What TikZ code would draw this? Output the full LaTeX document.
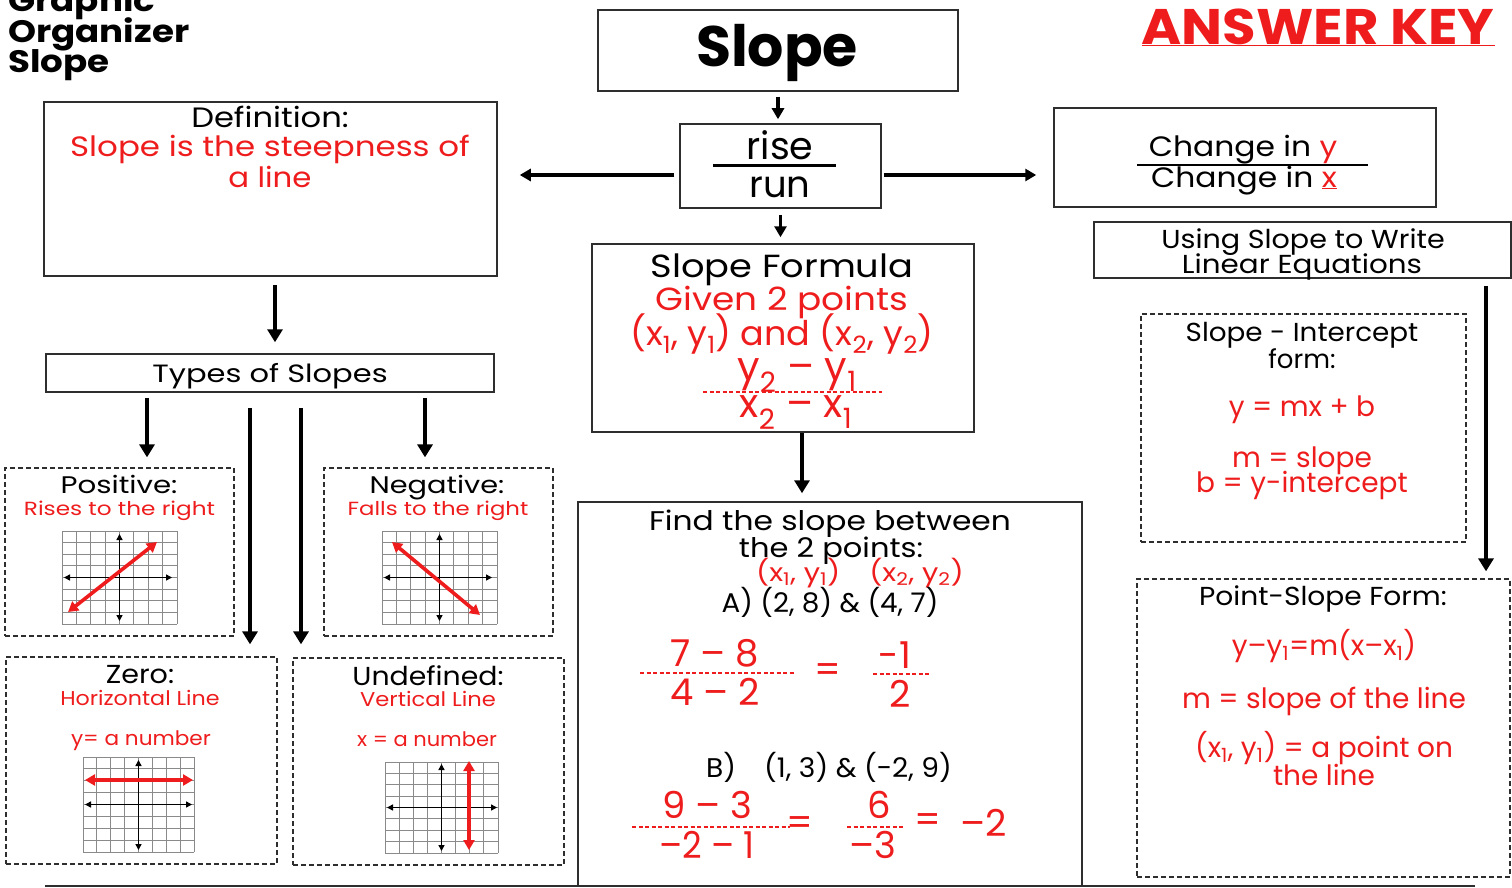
\documentclass[tikz,border=0pt]{standalone}
\usepackage{graphicx}
\usepackage{fontspec}
\setmainfont{Poppins}
\usetikzlibrary{arrows.meta,calc}
\definecolor{ared}{HTML}{EE1C1C}
\definecolor{bord}{HTML}{2E2E2E}
\definecolor{gridc}{HTML}{8A8A8A}
\newcommand{\fs}[1]{\fontsize{#1}{#1}\selectfont}
\newcommand{\lo}[1]{\textsubscript{#1}}
\newcommand{\wx}[2]{\scalebox{#1}[1]{#2}}
\newcommand{\slopegrid}[4]{%
  \foreach \gi in {0,...,8}{%
    \draw[gridl] ({#1+\gi*#3/8},#2) -- ({#1+\gi*#3/8},{#2+#4});
    \draw[gridl] (#1,{#2+\gi*#4/8}) -- ({#1+#3},{#2+\gi*#4/8});
  }}
\begin{document}
\begin{tikzpicture}[x=1pt,y=-1pt,
  sbox/.style={draw=bord, line width=1.5pt, inner sep=0pt},
  dbox/.style={draw=bord, line width=1.3pt, dash pattern=on 5pt off 3pt, inner sep=0pt},
  t/.style={anchor=base, inner sep=0pt},
  rt/.style={t, text=ared},
  arr/.style={line width=3.2pt, -{Triangle[length=11pt,width=12pt]}},
  longarr/.style={line width=4.4pt, -{Triangle[length=13pt,width=15pt]}},
  gridl/.style={gridc, line width=0.8pt},
  axisl/.style={line width=1.8pt, {Triangle[length=6pt,width=6pt]}-{Triangle[length=6pt,width=6pt]}},
  redl/.style={ared, line width=3.6pt, {Triangle[length=10pt,width=11pt]}-{Triangle[length=10pt,width=11pt]}},
  rdash/.style={ared, line width=1.5pt, dash pattern=on 4pt off 2.5pt},
]
\useasboundingbox (0,0) rectangle (1512,888);

% ---------- boxes ----------
\node[sbox, minimum width=360pt, minimum height=81pt] (slopebox) at (778,50.5) {};
\node[sbox, minimum width=201pt, minimum height=84pt] (risebox) at (780.5,166) {};
\node[sbox, minimum width=453pt, minimum height=174pt] (defbox) at (270.5,189) {};
\node[sbox, minimum width=448pt, minimum height=38pt] (typesbox) at (270,373) {};
\node[dbox, minimum width=229pt, minimum height=168pt] (posbox) at (119.5,552) {};
\node[dbox, minimum width=229pt, minimum height=168pt] (negbox) at (438.5,552) {};
\node[dbox, minimum width=271pt, minimum height=207pt] (zerobox) at (141.5,760.5) {};
\node[dbox, minimum width=271pt, minimum height=207pt] (undefbox) at (428.5,761.5) {};
\node[sbox, minimum width=382pt, minimum height=188pt] (formbox) at (783,338) {};
\node[sbox, minimum width=504pt, minimum height=384pt] (findbox) at (830,694) {};
\node[sbox, minimum width=382pt, minimum height=99pt] (changebox) at (1245,157.5) {};
\node[sbox, minimum width=417pt, minimum height=56pt] (usingbox) at (1302.5,250) {};
\node[dbox, minimum width=325pt, minimum height=228pt] (sibox) at (1303.5,428) {};
\node[dbox, minimum width=373pt, minimum height=298pt] (psbox) at (1323.5,728) {};
\coordinate (bl) at (45,886);
\coordinate (br) at (1475,886);
\draw[bord, line width=2pt] (bl) -- (br);

% ---------- title texts ----------
\node[anchor=base west, inner sep=0pt, font=\fs{31}\bfseries] (g1) at (8,12) {\wx{1.15}{Graphic}};
\node[anchor=base west, inner sep=0pt, font=\fs{31}\bfseries] (g2) at (8,43) {\wx{1.15}{Organizer}};
\node[anchor=base west, inner sep=0pt, font=\fs{31}\bfseries] (g3) at (8,73) {\wx{1.15}{Slope}};
\node[t, font=\fs{57}\bfseries] (slopet) at (777,67) {Slope};
\node[rt, font=\fs{50}\bfseries] (ak) at (1318,45) {\wx{1.09}{ANSWER KEY}};
\draw[ared, line width=0.8pt] (ak.base west) -- (ak.base east);

% rise / run
\node[t, font=\fs{38}] (riset) at (780,160) {rise};
\node[t, font=\fs{37}] (runt) at (780,197) {run};
\coordinate (rl1) at (713,165);
\coordinate (rl2) at (836,165);
\draw[line width=3pt] (rl1) -- (rl2);

% definition
\node[t, font=\fs{28}] (def1) at (270,128) {\wx{1.15}{Definition:}};
\node[rt, font=\fs{28}] (def2) at (270,157) {\wx{1.16}{Slope is the steepness of}};
\node[rt, font=\fs{28}] (def3) at (270,187) {\wx{1.1}{a line}};

% types
\node[t, font=\fs{25}] (typest) at (270,382) {\wx{1.22}{Types of Slopes}};

\node[t, font=\fs{24}] (pos1) at (119,493) {\wx{1.22}{Positive:}};
\node[rt, font=\fs{19}] (pos2) at (119.5,515) {\wx{1.22}{Rises to the right}};
\node[t, font=\fs{24}] (neg1) at (437,493) {\wx{1.2}{Negative:}};
\node[rt, font=\fs{19}] (neg2) at (438,515) {\wx{1.2}{Falls to the right}};
\node[t, font=\fs{26}] (zero1) at (140,683) {\wx{1.1}{Zero:}};
\node[rt, font=\fs{20}] (zero2) at (140,705) {\wx{1.11}{Horizontal Line}};
\node[rt, font=\fs{20}] (zero3) at (141,745) {\wx{1.08}{y= a number}};
\node[t, font=\fs{26}] (und1) at (428,685) {\wx{1.09}{Undefined:}};
\node[rt, font=\fs{20}] (und2) at (428,706) {\wx{1.13}{Vertical Line}};
\node[rt, font=\fs{20}] (und3) at (427,746) {\wx{1.05}{x = a number}};

% grids
\slopegrid{62}{531}{115}{93}
\draw[axisl] (119.5,534) -- (119.5,621);
\draw[axisl] (64,577.5) -- (172,577.5);
\draw[redl] (68,612) -- (157,542);

\slopegrid{382}{531}{115}{93}
\draw[axisl] (439.5,534) -- (439.5,621);
\draw[axisl] (384,577.5) -- (492,577.5);
\draw[redl] (392,542) -- (480,615);

\slopegrid{83}{757}{111}{95}
\draw[axisl] (138.5,760) -- (138.5,850);
\draw[axisl] (85,804.5) -- (192,804.5);
\draw[redl] (85,780) -- (193,780);

\slopegrid{385}{762}{113}{91}
\draw[axisl] (441.5,764) -- (441.5,851);
\draw[axisl] (387,807.5) -- (497,807.5);
\draw[redl] (469,761) -- (469,850);

% slope formula
\node[t, font=\fs{32}] (form1) at (782,277) {\wx{1.15}{Slope Formula}};
\node[rt, font=\fs{32}] (form2) at (782,310) {\wx{1.12}{Given 2 points}};
\node[rt, font=\fs{34}] (form3) at (782,345) {\wx{1.03}{(x\lo{1}, y\lo{1}) and (x\lo{2}, y\lo{2})}};
\node[rt, font=\fs{40}] (form4) at (797,380) {y\lo{2} – y\lo{1}};
\node[rt, font=\fs{40}] (form5) at (796,417) {x\lo{2} – x\lo{1}};
\coordinate (fd1) at (703,392);
\coordinate (fd2) at (882,392);
\draw[rdash] (fd1) -- (fd2);

% change box
\node[t, font=\fs{28}] (chy) at (1243,157) {\wx{1.12}{Change in {\color{ared}\underline{y}}}};
\node[t, font=\fs{28}] (chx) at (1244,187) {\wx{1.12}{Change in {\color{ared}\underline{x}}}};
\coordinate (cl1) at (1137,165);
\coordinate (cl2) at (1368,165);
\draw[line width=1.3pt] (cl1) -- (cl2);

% using slope
\node[t, font=\fs{26}] (us1) at (1303,248) {\wx{1.1}{Using Slope to Write}};
\node[t, font=\fs{26}] (us2) at (1302,273) {\wx{1.13}{Linear Equations}};

% find box
\node[t, font=\fs{27}] (find1) at (830,530) {\wx{1.16}{Find the slope between}};
\node[t, font=\fs{27}] (find2) at (831,557) {\wx{1.13}{the 2 points:}};
\node[rt, font=\fs{25}] (find3) at (860,581) {\wx{1.16}{(x\lo{1}, y\lo{1})\quad(x\lo{2}, y\lo{2})}};
\node[t, font=\fs{27}] (find4) at (830,612) {\wx{1.03}{A) (2, 8) \& (4, 7)}};
\node[rt, font=\fs{37}] (fa1) at (715,666) {7 – 8};
\node[rt, font=\fs{37}] (fa2) at (715,705) {4 – 2};
\coordinate (ad1) at (640,673);
\coordinate (ad2) at (794,673);
\draw[rdash] (ad1) -- (ad2);
\node[text=ared, inner sep=0pt, font=\fs{37}] (eqa) at (828,673) {=};
\node[rt, font=\fs{37}] (fa3) at (895,668) {-1};
\node[rt, font=\fs{37}] (fa4) at (900,707) {2};
\coordinate (ad3) at (873,674);
\coordinate (ad4) at (930,674);
\draw[rdash] (ad3) -- (ad4);

\node[t, font=\fs{27}] (findb) at (829,777) {\wx{1.04}{B)\quad(1, 3) \& (-2, 9)}};
\node[rt, font=\fs{37}] (fb1) at (707,818) {9 – 3};
\node[rt, font=\fs{37}] (fb2) at (707,858) {\wx{0.92}{–2 – 1}};
\coordinate (bd1) at (632,827);
\coordinate (bd2) at (790,827);
\draw[rdash] (bd1) -- (bd2);
\node[text=ared, inner sep=0pt, font=\fs{37}] (eqb1) at (800,826) {=};
\node[rt, font=\fs{37}] (fb3) at (879,818) {6};
\node[rt, font=\fs{37}] (fb4) at (873,858) {–3};
\coordinate (bd3) at (847,827);
\coordinate (bd4) at (903,827);
\draw[rdash] (bd3) -- (bd4);
\node[text=ared, inner sep=0pt, font=\fs{37}] (eqb2) at (928,823) {=};
\node[rt, font=\fs{37}] (fb5) at (984,836) {–2};

% slope-intercept
\node[t, font=\fs{26}] (si1) at (1302,341) {\wx{1.07}{Slope - Intercept}};
\node[t, font=\fs{26}] (si2) at (1302,368) {form:};
\node[rt, font=\fs{28}] (si3) at (1302,416) {y = mx + b};
\node[rt, font=\fs{28}] (si4) at (1302,467) {m = slope};
\node[rt, font=\fs{28}] (si5) at (1302,492) {b = y-intercept};

% point-slope
\node[t, font=\fs{26}] (ps1) at (1323,605) {\wx{1.08}{Point-Slope Form:}};
\node[rt, font=\fs{28}] (ps2) at (1324,655) {y–y\lo{1}=m(x–x\lo{1})};
\node[rt, font=\fs{28}] (ps3) at (1324,708) {m = slope of the line};
\node[rt, font=\fs{28}] (ps4) at (1324,757) {(x\lo{1}, y\lo{1}) = a point on};
\node[rt, font=\fs{28}] (ps5) at (1324,785) {the line};

% ---------- arrows ----------
\draw[arr, shorten <=5pt, shorten >=4pt] (slopebox.south) -- (slopebox.south |- risebox.north);
\draw[arr, shorten <=5pt, shorten >=22pt] ([yshift=-9pt]risebox.west) -- ([yshift=-9pt]risebox.west -| defbox.east);
\draw[arr, shorten <=2pt, shorten >=17pt] ([yshift=-9pt]risebox.east) -- ([yshift=-9pt]risebox.east -| changebox.west);
\draw[arr, shorten <=6pt, shorten >=6pt] (risebox.south) -- (risebox.south |- formbox.north);
\draw[longarr, shorten <=0pt, shorten >=8pt] ([xshift=19pt]formbox.south) -- ([xshift=19pt]formbox.south |- findbox.north);
\draw[longarr, shorten <=8pt, shorten >=11pt] ([xshift=4.5pt]defbox.south) -- ([xshift=4.5pt]defbox.south |- typesbox.north);
\draw[longarr, shorten <=5pt, shorten >=10pt] ([xshift=-123pt]typesbox.south) -- ([xshift=-123pt]typesbox.south |- posbox.north);
\draw[longarr, shorten <=15pt, shorten >=12pt] ([xshift=-20pt]typesbox.south) -- ([xshift=-20pt]typesbox.south |- zerobox.north);
\draw[longarr, shorten <=15pt, shorten >=13pt] ([xshift=31pt]typesbox.south) -- ([xshift=31pt]typesbox.south |- undefbox.north);
\draw[longarr, shorten <=5pt, shorten >=10pt] ([xshift=155pt]typesbox.south) -- ([xshift=155pt]typesbox.south |- negbox.north);
\draw[longarr, shorten <=7pt, shorten >=7pt] ([xshift=183.5pt]usingbox.south) -- ([xshift=183.5pt]usingbox.south |- psbox.north);
\end{tikzpicture}
\end{document}
